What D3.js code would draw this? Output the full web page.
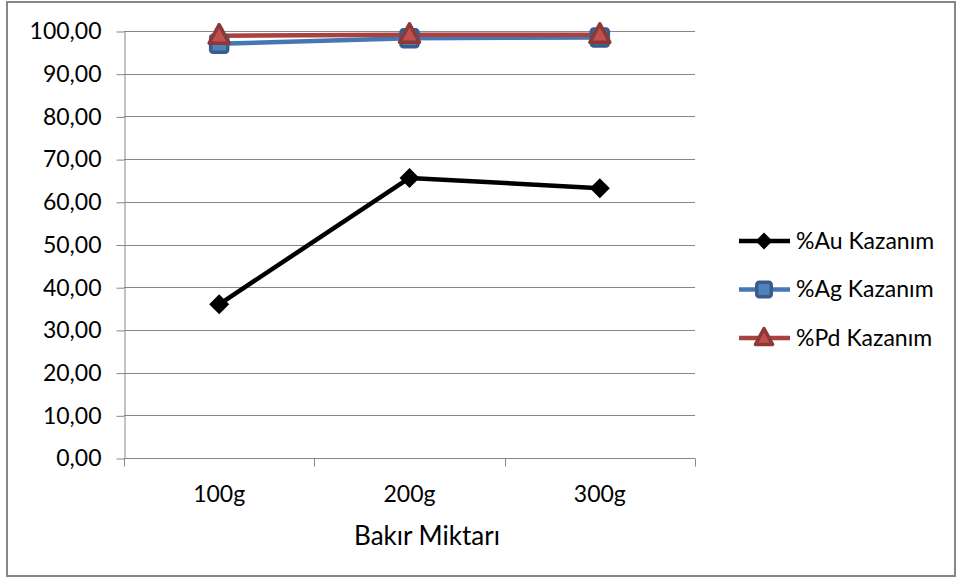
<!DOCTYPE html>
<html>
<head>
<meta charset="utf-8">
<script src="https://cdn.jsdelivr.net/npm/d3@7"></script>
<style>
  html, body { margin: 0; padding: 0; background: #fff; }
  svg { display: block; font-family: Lato, "Open Sans", sans-serif; }
</style>
</head>
<body>
<svg id="chart" width="961" height="581"></svg>
<script>
// Recovery rates by copper amount
const categories = ["100g", "200g", "300g"];
const auValues = [36.0, 65.6, 63.2];
const agValues = [97.0, 98.3, 98.5];
const pdValues = [98.9, 99.1, 99.1];
const yTicks = [0, 10, 20, 30, 40, 50, 60, 70, 80, 90, 100];
const seriesNames = ["%Au Kazanım", "%Ag Kazanım", "%Pd Kazanım"];
const xTitle = "Bakır Miktarı";

const series = [
  { name: seriesNames[0], values: auValues, line: "#000000", fill: "#000000", stroke: "#000000", marker: "diamond" },
  { name: seriesNames[1], values: agValues, line: "#4477B4", fill: "#4F81BD", stroke: "#385D8A", marker: "square" },
  { name: seriesNames[2], values: pdValues, line: "#A8413F", fill: "#C0504D", stroke: "#8C3836", marker: "triangle" }
];

const svg = d3.select("#chart");
const fmt = d => d.toFixed(2).replace(".", ",");

const plot = { left: 124, right: 695, top: 31, bottom: 458 };

const x = d3.scaleBand().domain(categories).range([plot.left, plot.right]);
const y = d3.scaleLinear().domain([0, 100]).range([plot.bottom, plot.top]);

// outer frame
svg.append("rect")
  .attr("x", 7).attr("y", 2).attr("width", 948).attr("height", 574)
  .attr("fill", "#fff").attr("stroke", "#868686").attr("stroke-width", 2);

// horizontal gridlines
svg.append("g").selectAll("line").data(yTicks.filter(d => d > 0)).join("line")
  .attr("x1", plot.left).attr("x2", plot.right)
  .attr("y1", d => Math.round(y(d)) + 0.5).attr("y2", d => Math.round(y(d)) + 0.5)
  .attr("stroke", "#868686").attr("stroke-width", 1);

// y axis
const yAxis = svg.append("g")
  .attr("transform", `translate(${plot.left + 0.5},0.5)`)
  .call(d3.axisLeft(y).tickValues(yTicks).tickFormat(fmt).tickSize(8).tickPadding(15).tickSizeOuter(0));
yAxis.select(".domain").attr("stroke", "#868686");
yAxis.selectAll(".tick line").attr("stroke", "#868686");
yAxis.selectAll(".tick text").attr("font-size", 23).attr("fill", "#000").attr("font-family", "Lato, sans-serif");

// x axis with ticks at band boundaries
const xAxis = svg.append("g")
  .attr("transform", `translate(0,${plot.bottom + 0.5})`);
xAxis.append("line")
  .attr("x1", plot.left).attr("x2", plot.right)
  .attr("stroke", "#868686");
const bounds = categories.map(c => x(c)).concat([x(categories[categories.length - 1]) + x.bandwidth()]);
xAxis.selectAll("line.tk").data(bounds).join("line").attr("class", "tk")
  .attr("x1", d => Math.round(d) + 0.5).attr("x2", d => Math.round(d) + 0.5)
  .attr("y1", 0).attr("y2", 8).attr("stroke", "#868686");
xAxis.selectAll("text").data(categories).join("text")
  .attr("x", d => x(d) + x.bandwidth() / 2).attr("y", 43)
  .attr("text-anchor", "middle").attr("font-size", 23).attr("fill", "#000")
  .text(d => d);

svg.append("text")
  .attr("x", 427).attr("y", 545)
  .attr("text-anchor", "middle").attr("font-size", 26).attr("fill", "#000")
  .text(xTitle);

// marker drawing
function drawMarker(g, s, cx, cy, scale) {
  const k = scale || 1;
  if (s.marker === "diamond") {
    const r = 10 * k;
    g.append("path").attr("d", `M${cx},${cy - r}L${cx + r},${cy}L${cx},${cy + r}L${cx - r},${cy}Z`)
      .attr("fill", s.fill);
  } else if (s.marker === "square") {
    const h = 8.5 * k;
    g.append("rect").attr("x", cx - h).attr("y", cy - h).attr("width", 2 * h).attr("height", 2 * h)
      .attr("rx", 2.5).attr("fill", s.fill).attr("stroke", s.stroke).attr("stroke-width", 3.5);
  } else {
    const h = 10 * k;
    g.append("path").attr("d", `M${cx},${cy - h * 1.1}L${cx + h},${cy + h * 0.75}L${cx - h},${cy + h * 0.75}Z`)
      .attr("fill", s.fill).attr("stroke", s.stroke).attr("stroke-width", 3.5).attr("stroke-linejoin", "round");
  }
}

const line = d3.line()
  .x((d, i) => x(categories[i]) + x.bandwidth() / 2)
  .y(d => y(d));

const seriesG = svg.append("g");
series.forEach(s => {
  seriesG.append("path").datum(s.values)
    .attr("d", line).attr("fill", "none")
    .attr("stroke", s.line).attr("stroke-width", 4.5).attr("stroke-linejoin", "round");
});
series.forEach(s => {
  const g = seriesG.append("g");
  s.values.forEach((v, i) => drawMarker(g, s, x(categories[i]) + x.bandwidth() / 2, y(v)));
});

// legend
const legend = svg.append("g");
series.forEach((s, i) => {
  const ly = 241 + i * 48.5;
  const g = legend.append("g");
  g.append("line").attr("x1", 739).attr("x2", 790).attr("y1", ly).attr("y2", ly)
    .attr("stroke", s.line).attr("stroke-width", 4.5);
  drawMarker(g, s, 764, ly, 0.85);
  g.append("text").attr("x", 796).attr("y", ly + 7.5).attr("font-size", 23).attr("fill", "#000")
    .text(s.name);
});
</script>
</body>
</html>
